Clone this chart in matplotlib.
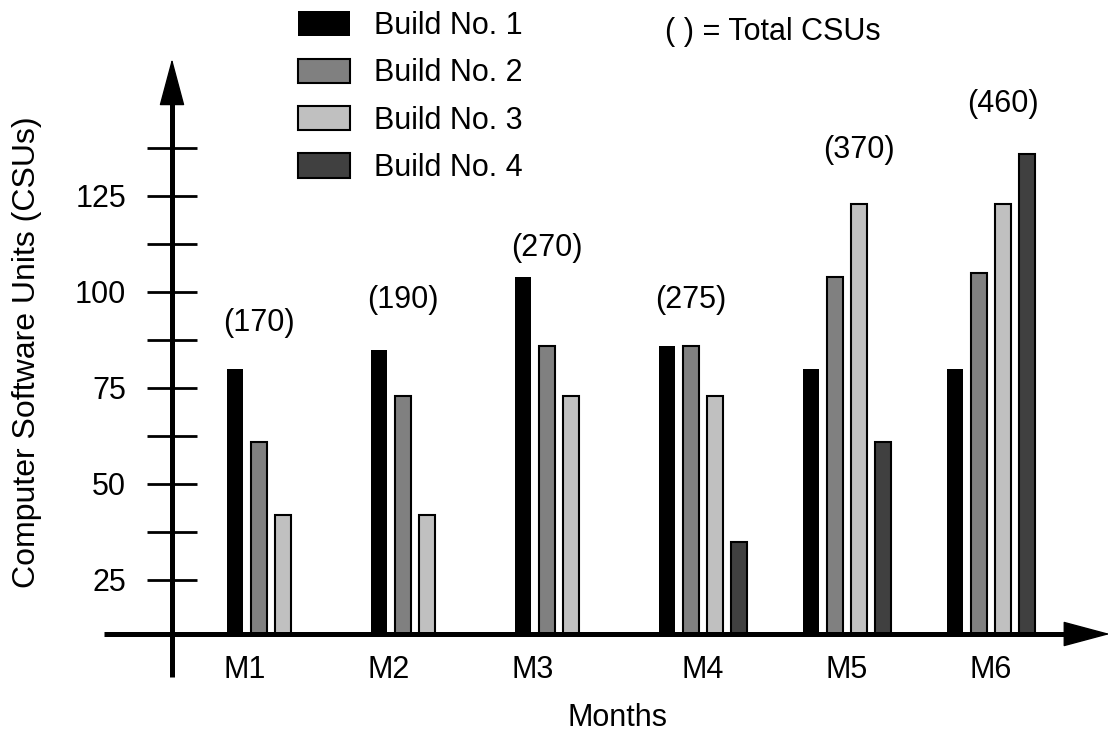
import numpy as np
import matplotlib
matplotlib.use("Agg")
import matplotlib.pyplot as plt

plt.rcParams['font.family'] = ['Liberation Sans', 'DejaVu Sans']

# data
months = ['M1', 'M2', 'M3', 'M4', 'M5', 'M6']
build1 = [80, 85, 104, 86, 80, 80]
build2 = [61, 73, 86, 86, 104, 105]
build3 = [42, 42, 73, 73, 123, 123]
build4 = [np.nan, np.nan, np.nan, 35, 61, 136]
totals = [170, 190, 270, 275, 370, 460]
builds = [build1, build2, build3, build4]
build_names = ['Build No. 1', 'Build No. 2', 'Build No. 3', 'Build No. 4']
colors = ['#000000', '#808080', '#c0c0c0', '#404040']

# layout helpers
total_label_y = [92, 98, 111.5, 98, 137, 149]
total_label_bar = [1, 1, 1, 1, 2, 2]
step = 1 / 6
width = 0.111
base = 10.94          # value where the drawn x axis sits
fs = 22

W, H = 1110, 734
fig = plt.figure(figsize=(W / 100, H / 100), dpi=100)
ax = fig.add_axes([172 / W, (H - 634) / H, (W - 172) / W, (634 - 20) / H])
ax.set_xlim(-0.4375, 6.076)
ax.set_ylim(base, 170.8)
for s in ax.spines.values():
    s.set_visible(False)

g = np.arange(len(months))
for k, (vals, name, c) in enumerate(zip(builds, build_names, colors)):
    h = np.array(vals, dtype=float) - base
    ax.bar(g + k * step, h, width=width, bottom=base, color=c,
           edgecolor='black', linewidth=0 if k == 0 else 1.5, label=name)

# totals above each group
for i, t in enumerate(totals):
    ax.text(g[i] + total_label_bar[i] * step, total_label_y[i], f'({t})',
            ha='center', va='center', fontsize=fs)


def axis_arrow(start, tip, neck):
    # thick shaft up to the head, then a filled head with a thin outline
    ax.plot([start[0], neck[0]], [start[1], neck[1]], lw=3.6, color='black',
            solid_capstyle='butt', clip_on=False)
    ax.annotate('', xy=tip, xytext=neck,
                arrowprops=dict(arrowstyle='-|>,head_length=31,head_width=8.3',
                                mutation_scale=1, lw=1, color='black',
                                shrinkA=0, shrinkB=0),
                annotation_clip=False)


axis_arrow((-0.4375, -0.3), (-0.4375, 160.7), (-0.4375, 152))
axis_arrow((-0.91, base), (6.076, base), (5.85, base))

yt = np.arange(25, 138, 12.5)
ax.set_yticks(yt, [f'{v:g}' if v % 25 == 0 else '' for v in yt])
ax.tick_params(axis='y', direction='inout', length=36, width=2, pad=15,
               labelsize=fs)
has4 = ~np.isnan(np.array(build4, dtype=float))
ax.set_xticks(g + np.where(has4, 0.245, 0.07), months)
ax.tick_params(axis='x', length=0, pad=15, labelsize=fs)

ax.legend(loc='upper left', bbox_to_anchor=(298 / W, 1 - 11 / H),
          bbox_transform=fig.transFigure, frameon=False, fontsize=fs,
          handlelength=1.7, handleheight=0.85, handletextpad=0.78,
          labelspacing=0.57, borderpad=0, borderaxespad=0)
fig.text(665 / W, 1 - 32 / H, '( ) = Total CSUs', fontsize=fs, va='center')

fig.text(27 / W, 1 - 352 / H, 'Computer Software Units (CSUs)', fontsize=23,
         rotation=90, ha='center', va='center')
fig.text(617 / W, 8 / H, 'Months', fontsize=fs, ha='center', va='baseline')

fig.savefig('out.png', dpi=100)
